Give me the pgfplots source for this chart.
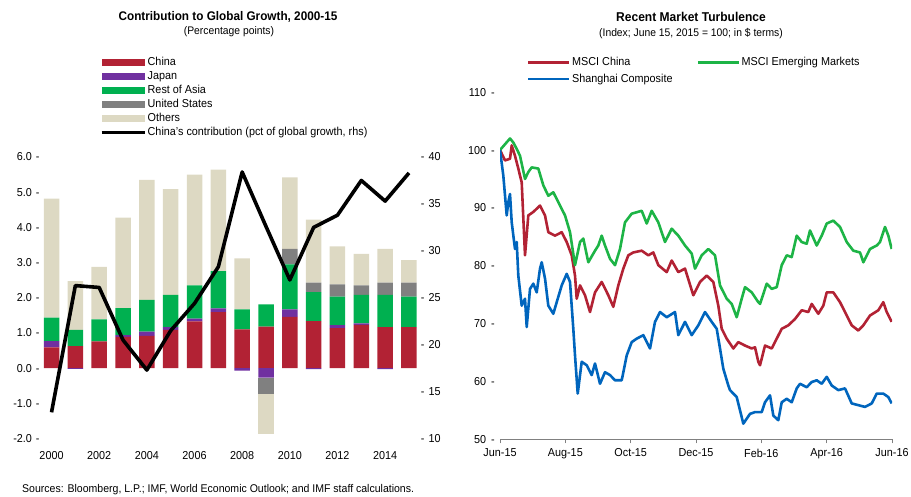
\documentclass[border=0pt]{standalone}
\usepackage{fontspec}
\setmainfont{Liberation Sans}[FakeStretch=0.94]
\usepackage{pgfplots}
\usepackage{pgfplotstable}
\pgfplotsset{compat=1.18}
\definecolor{cChina}{RGB}{178,34,52}
\definecolor{cJapan}{RGB}{112,48,160}
\definecolor{cRoA}{RGB}{0,176,80}
\definecolor{cUS}{RGB}{128,128,128}
\definecolor{cOth}{RGB}{221,217,195}
\definecolor{lRed}{RGB}{178,34,52}
\definecolor{lGreen}{RGB}{29,180,70}
\definecolor{lBlue}{RGB}{0,101,189}
\newcommand{\fs}{\fontsize{11.5bp}{13bp}\selectfont}
\pgfplotsset{
  barleg/.style={legend image code/.code={\fill[##1] (0bp,-3.5bp) rectangle (43bp,3.5bp);}},
  leftgeom/.style={at={(40.8bp,58.4bp)}, anchor=south west, scale only axis,
    width=378.9bp, height=281.6bp, xmin=1999.55, xmax=2015.45},
}
\pgfplotstableread{
year china japan roa us oth
2000 0.59 0.18 0.67 0.00 3.38
2001 0.63 0.00 0.46 0.00 1.38
2002 0.76 0.00 0.63 0.00 1.49
2003 0.89 0.05 0.77 0.00 2.57
2004 0.92 0.12 0.90 0.00 3.41
2005 1.09 0.08 0.91 0.00 3.01
2006 1.33 0.08 0.94 0.00 3.15
2007 1.59 0.11 1.06 0.00 2.88
2008 1.10 0.00 0.57 0.00 1.45
2009 1.18 0.00 0.63 0.00 0.00
2010 1.46 0.21 1.28 0.44 2.03
2011 1.34 0.00 0.82 0.27 1.79
2012 1.14 0.08 0.81 0.35 1.08
2013 1.23 0.04 0.81 0.27 0.90
2014 1.17 0.00 0.91 0.35 0.96
2015 1.17 0.00 0.86 0.40 0.64
}\pos
\pgfplotstableread{
year japan us oth
2000 0.00 0.00 0.00
2001 -0.02 0.00 0.00
2002 0.00 0.00 0.00
2003 0.00 0.00 0.00
2004 0.00 0.00 0.00
2005 0.00 0.00 0.00
2006 0.00 0.00 0.00
2007 0.00 0.00 0.00
2008 -0.07 0.00 0.00
2009 -0.27 -0.46 -1.14
2010 0.00 0.00 0.00
2011 -0.03 0.00 0.00
2012 0.00 0.00 0.00
2013 0.00 0.00 0.00
2014 -0.03 0.00 0.00
2015 0.00 0.00 0.00
}\negs
\pgfplotstableread{
year share
2000 12.8
2001 26.3
2002 26.1
2003 20.5
2004 17.3
2005 21.5
2006 24.4
2007 28.3
2008 38.4
2009 32.6
2010 26.9
2011 32.5
2012 33.8
2013 37.5
2014 35.3
2015 38.3
}\share
\begin{document}
\begin{tikzpicture}[x=1bp,y=1bp]
\useasboundingbox (0,0) rectangle (911,497);
% titles
\node[font=\fontsize{12.5bp}{14bp}\selectfont\bfseries] at (228,480) {Contribution to Global Growth, 2000-15};
\node[font=\fontsize{11bp}{12bp}\selectfont] at (229,465) {(Percentage points)};
\node[font=\fontsize{12.8bp}{14bp}\selectfont\bfseries] at (691,480) {Recent Market Turbulence};
\node[font=\fontsize{11bp}{12bp}\selectfont] at (691,463) {(Index; June 15, 2015 = 100; in \$ terms)};
\node[font=\fontsize{11.2bp}{13bp}\selectfont, anchor=west, inner sep=0pt] at (22,7) {Sources: Bloomberg, L.P.; IMF, World Economic Outlook; and IMF staff calculations.};
% positive stacks
\begin{axis}[leftgeom, ymin=-2, ymax=6, ybar stacked, bar width=15.5bp,
  axis line style={draw=none}, tick style={draw=none},
  xtick={2000,2002,...,2014}, xtick pos=bottom, ytick pos=left,
  xticklabel style={/pgf/number format/1000 sep={}, /pgf/number format/assume math mode=true, yshift=-9bp},
  ytick={-2,-1,...,6},
  yticklabel={\pgfmathprintnumber[fixed,fixed zerofill,precision=1,assume math mode=true]{\tick}\hspace{4bp}-},
  yticklabel style={inner sep=1bp},
  tick label style={font=\fs},
  legend style={at={(0.1562,1.3604)}, anchor=north west, draw=none, fill=none,
    inner sep=0pt, row sep=1bp, font=\fs,
    nodes={inner sep=1.5bp, text height=8bp, text depth=2bp}},
  legend cell align=left,
]
\addplot[fill=cChina, draw=none, barleg] table[x=year,y=china]{\pos};
\addlegendentry{China}
\addplot[fill=cJapan, draw=none, barleg] table[x=year,y=japan]{\pos};
\addlegendentry{Japan}
\addplot[fill=cRoA, draw=none, barleg] table[x=year,y=roa]{\pos};
\addlegendentry{Rest of Asia}
\addplot[fill=cUS, draw=none, barleg] table[x=year,y=us]{\pos};
\addlegendentry{United States}
\addplot[fill=cOth, draw=none, barleg] table[x=year,y=oth]{\pos};
\addlegendentry{Others}
\addlegendimage{legend image code/.code={\draw[black,line width=3bp] (0bp,0bp) -- (43bp,0bp);}}
\addlegendentry{China's contribution (pct of global growth, rhs)}
\end{axis}
% negative stacks
\begin{axis}[leftgeom, ymin=-2, ymax=6, ybar stacked, bar width=15.5bp, hide axis]
\addplot[fill=cJapan, draw=none] table[x=year,y=japan]{\negs};
\addplot[fill=cUS, draw=none] table[x=year,y=us]{\negs};
\addplot[fill=cOth, draw=none] table[x=year,y=oth]{\negs};
\end{axis}
% line, right axis
\begin{axis}[leftgeom, ymin=10, ymax=40, axis line style={draw=none}, tick style={draw=none},
  xtick=\empty, ytick pos=right, ytick={10,15,...,40},
  yticklabel={-\hspace{4bp}\pgfmathprintnumber[assume math mode=true]{\tick}},
  yticklabel style={inner sep=1bp, anchor=west},
  tick label style={font=\fs}, clip=false]
\addplot[black, line width=3.6bp, line join=round] table[x=year,y=share]{\share};
\end{axis}
% right chart
\begin{axis}[at={(500bp,57.7bp)}, anchor=south west, scale only axis, width=392bp, height=347.1bp,
  xmin=0, xmax=392, ymin=50, ymax=110,
  axis x line*=bottom, axis y line*=left,
  y axis line style={draw=none}, x axis line style={draw=gray, line width=0.8bp},
  ytick={50,60,...,110}, ytick style={draw=none},
  yticklabel={\pgfmathprintnumber[assume math mode=true]{\tick}\hspace{5bp}-},
  yticklabel style={inner sep=1bp},
  xtick={0,65.33,130.67,196,261.33,326.67,392},
  xticklabels={Jun-15,Aug-15,Oct-15,Dec-15,Feb-16,Apr-16,Jun-16},
  xticklabel style={yshift=-2bp},
  xtick style={draw=gray, line width=0.8bp}, tick align=outside, major tick length=4bp,
  tick label style={font=\fs},
  legend columns=2,
  legend style={at={(0.0689,1.1043)}, anchor=north west, draw=none, fill=none,
    inner sep=0pt, row sep=3.5bp, column sep=0bp, font=\fs,
    nodes={inner sep=1.5bp, text height=8bp, text depth=2bp}},
  legend cell align=left,
  legend image code/.code={\draw[#1, line width=2.5bp] (0bp,0bp) -- (41bp,0bp);},
  line join=round,
]
\addplot[lRed, line width=2.6bp] coordinates {
(0,100) (5,98.2) (10,98.5) (11.7,100.8) (15,99.0) (18.3,96.8) (21.7,94.4) (25,81.8) (28.3,88.7) (33.3,89.3) (40,90.4) (45,88.7) (48.3,85.8) (55,85.2) (61.7,85.8) (66.7,84.1) (71.7,81.8) (75,78.3) (76.7,74.3) (80,76.6) (85,74.9) (90,72.0) (95,75.4) (101.7,77.2) (108.3,74.9) (113.3,72.9) (118.3,76.6) (123.3,79.5) (128.3,81.8) (133.3,82.3) (141.7,82.6) (148.3,81.8) (153.3,82.3) (158.3,80.1) (166.7,78.9) (171.7,80.9) (178.3,78.9) (185,79.5) (193.3,74.9) (200,77.2) (206.7,78.3) (213.3,77.2) (218.3,73.1) (221.7,69.1) (226.7,67.4) (233.3,65.7) (238.3,66.8) (245,66.2) (251.7,65.7) (255,65.9) (258.3,63.4) (260,62.8) (265,66.2) (271.7,65.7) (276.7,67.4) (281.7,69.1) (288.3,69.7) (295,70.8) (301.7,72.3) (308.3,72.0) (311.7,73.4) (318.3,71.7) (323.3,73.1) (326.7,75.4) (333.3,75.4) (340,73.7) (345,72.0) (351.7,69.7) (358.3,68.8) (363.3,69.7) (370,71.4) (378.3,72.3) (383.3,73.7) (386.7,72.0) (391.7,70.3)
};
\addlegendentry{\makebox[123bp][l]{MSCI China}}
\addplot[lGreen, line width=2.6bp] coordinates {
(0,100) (5,101.0) (10,102.0) (13.3,101.3) (16.7,100.2) (20,99.0) (25,95.0) (28.3,96.2) (31.7,97.0) (38.3,96.8) (43.3,93.9) (48.3,92.1) (53.3,92.7) (58.3,91.0) (65,88.7) (70,85.8) (75,80.1) (80,84.1) (83.3,84.7) (88.3,80.6) (95,82.6) (98.3,83.5) (101.7,85.2) (105,83.5) (110,81.2) (115,80.1) (120,82.9) (125,87.5) (131.7,89.0) (141.7,89.5) (146.7,87.3) (151.7,89.5) (158.3,87.5) (165,84.1) (171.7,86.4) (178.3,85.2) (185,83.5) (191.7,82.1) (195,79.5) (201.7,81.8) (208.3,82.9) (215,81.8) (220,76.6) (226.7,74.3) (231.7,73.4) (236.7,71.1) (241.7,74.3) (245,76.3) (251.7,75.4) (258.3,73.7) (260,73.4) (266.7,76.9) (271.7,76.0) (276.7,76.3) (281.7,80.1) (286.7,81.8) (291.7,81.5) (296.7,85.2) (301.7,84.1) (306.7,83.8) (310,86.1) (316.7,83.5) (321.7,85.2) (326.7,87.3) (333.3,87.8) (340,86.7) (346.7,84.1) (353.3,82.6) (360,82.3) (363.3,80.6) (370,82.9) (376.7,83.5) (380,84.1) (385,86.7) (388.3,85.2) (391.7,82.9)
};
\addlegendentry{MSCI Emerging Markets}
\addplot[lBlue, line width=2.6bp] coordinates {
(0,100) (3.3,95.6) (6.7,88.7) (8.3,91.0) (10,92.4) (11.7,87.5) (15,82.9) (16.7,84.1) (18.3,78.3) (21.7,73.1) (25,74.3) (26.7,69.4) (30,76.0) (33.3,76.9) (36.7,75.4) (40,79.5) (41.7,80.6) (45,77.8) (48.3,73.1) (53.3,71.7) (56.7,73.7) (61.7,76.6) (66.7,78.6) (70,77.2) (73.3,69.1) (75,64.5) (77.7,57.9) (81.7,63.4) (86.7,62.8) (91.7,61.1) (95,63.1) (100,59.6) (105,61.6) (110,61.1) (115,60.2) (121.7,60.2) (126.7,64.5) (131.7,66.8) (136.7,67.4) (143.3,68.0) (150,65.7) (155,70.3) (160,72.0) (166.7,71.1) (175,72.0) (178.3,68.0) (185,70.3) (191.7,68.0) (198.3,69.7) (205,72.0) (211.7,70.3) (216.7,69.1) (220,65.7) (223.3,62.2) (228.3,59.3) (230,58.5) (236.7,57.3) (243.3,52.7) (250,54.4) (255,54.7) (261.7,54.7) (265,56.4) (270,57.6) (273.3,54.1) (278.3,53.3) (281.7,56.4) (286.7,57.0) (291.7,56.4) (296.7,58.8) (300,59.6) (306.7,59.0) (311.7,59.9) (316.7,60.2) (321.7,59.6) (326.7,60.8) (331.7,59.3) (338.3,58.5) (345,58.8) (351.7,56.2) (358.3,55.9) (365,55.6) (371.7,56.2) (376.7,57.9) (383.3,57.9) (388.3,57.3) (391.7,56.2)
};
\addlegendentry{\makebox[123bp][l]{Shanghai Composite}}
\end{axis}
\end{tikzpicture}
\end{document}
